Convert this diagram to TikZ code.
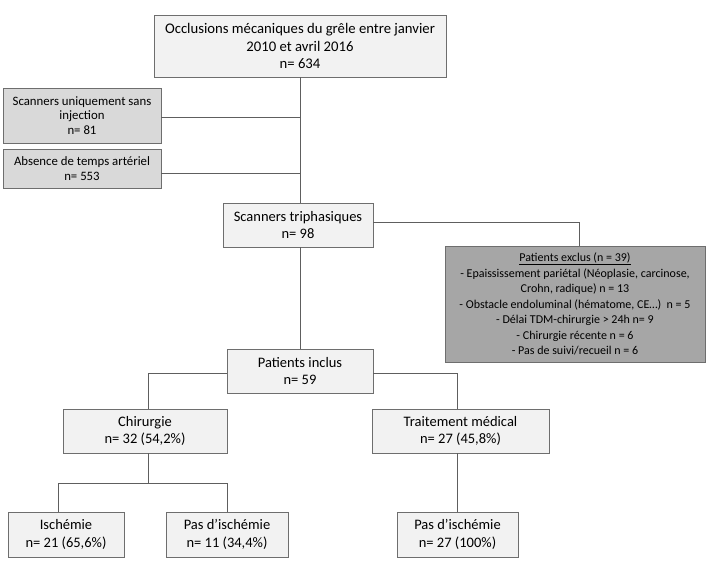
\documentclass[tikz,border=0pt]{standalone}
\usepackage{fontspec}
\setmainfont{Carlito}
\usetikzlibrary{positioning}
\definecolor{grisclair}{HTML}{F2F2F2}
\definecolor{grismoyen}{HTML}{D9D9D9}
\definecolor{grisfonce}{HTML}{A6A6A6}
\definecolor{bord}{HTML}{6E6E6E}
\definecolor{trait}{HTML}{5E5E5E}
\begin{document}
\begin{tikzpicture}[x=1pt, y=-1pt,
	boite/.style={draw=bord, fill=grisclair, line width=0.9pt, align=center, inner sep=2pt,
		font=\fontsize{14.5}{17.5}\selectfont},
	boitegrise/.style={boite, fill=grismoyen, font=\fontsize{12.8}{14.5}\selectfont},
	boitefoncee/.style={boite, fill=grisfonce, font=\fontsize{12}{15.5}\selectfont},
	lien/.style={draw=trait, line width=0.9pt}]
	\useasboundingbox (0,0) rectangle (706,561);
	%boites du haut
	\node (occl) [boite, minimum width=292pt, minimum height=62pt, font=\fontsize{14.7}{17.5}\selectfont] at (300,46)
		{Occlusions mécaniques du grêle entre janvier\\2010 et avril 2016\\n= 634};
	\node (inj) [boitegrise, minimum width=158pt, minimum height=55pt] at (82,115.5)
		{Scanners uniquement sans\\injection\\n= 81};
	\node (art) [boitegrise, minimum width=158pt, minimum height=39pt] at (82,168.5)
		{Absence de temps artériel\\n= 553};
	\node (tri) [boite, minimum width=150pt, minimum height=44pt] at (298,225)
		{Scanners triphasiques\\n= 98};
	\node (excl) [boitefoncee, minimum width=260pt, minimum height=116pt] at (575,304)
		{\underline{Patients exclus (n = 39)}\\
		- Epaississement pariétal (Néoplasie, carcinose,\\
		Crohn, radique) n = 13\\
		- Obstacle endoluminal (hématome, CE\dots)\ \ n = 5\\
		- Délai TDM-chirurgie > 24h n= 9\\
		- Chirurgie récente n = 6\\
		- Pas de suivi/recueil n = 6};
	%patients inclus
	\node (incl) [boite, minimum width=146pt, minimum height=44pt] at (300,371)
		{Patients inclus\\n= 59};
	\node (chir) [boite, minimum width=164pt, minimum height=44pt] at (145,431)
		{Chirurgie\\n= 32 (54,2\%)};
	\node (med) [boite, minimum width=177pt, minimum height=44pt] at (460.5,431)
		{Traitement médical\\n= 27 (45,8\%)};
	\node (isch) [boite, minimum width=116pt, minimum height=45pt] at (66,534.5)
		{Ischémie\\n= 21 (65,6\%)};
	\node (pasa) [boite, minimum width=122pt, minimum height=45pt] at (227,534.5)
		{Pas d’ischémie\\n= 11 (34,4\%)};
	\node (pasb) [boite, minimum width=121pt, minimum height=45pt] at (457.5,534.5)
		{Pas d’ischémie\\n= 27 (100\%)};
	%liens
	\coordinate (tronc1) at (300,117);
	\coordinate (tronc2) at (300,173);
	\coordinate (coude) at (579,222);
	\coordinate (chirbas) at (148,483);
	\draw[lien] (occl.south -| tronc1) -- (tri.north -| tronc1);
	\draw[lien] (inj.east |- tronc1) -- (tronc1);
	\draw[lien] (art.east |- tronc2) -- (tronc2);
	\draw[lien] (tri.east |- coude) -- (coude) -- (excl.north -| coude);
	\draw[lien] (tri.south -| tronc1) -- (incl.north -| tronc1);
	\draw[lien] (incl.west |- 0,373) -| (chir.north -| chirbas);
	\draw[lien] (incl.east |- 0,373) -| (457,409);
	\draw[lien] (chir.south -| chirbas) -- (chirbas);
	\draw[lien] (chirbas) -| (58,512);
	\draw[lien] (chirbas) -| (pasa.north);
	\draw[lien] (med.south -| pasb) -- (pasb.north);
\end{tikzpicture}
\end{document}
